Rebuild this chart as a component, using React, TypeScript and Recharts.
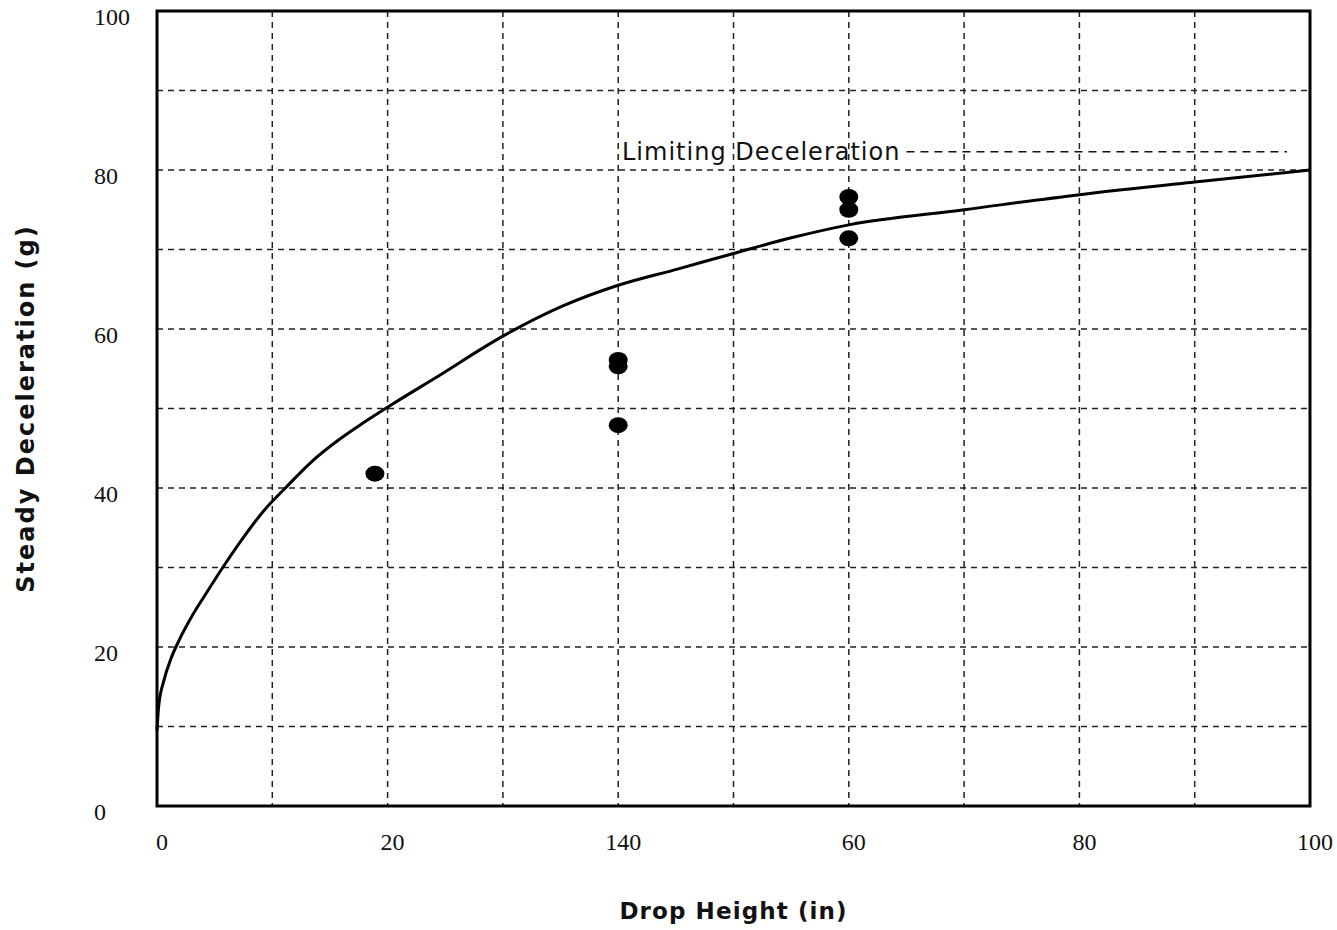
import {
  ComposedChart,
  Line,
  Scatter,
  XAxis,
  YAxis,
  CartesianGrid,
  ReferenceArea,
  ReferenceLine,
} from 'recharts';

// fitted curve
const curveX = [0, 0.15, 0.6, 1.2, 1.9, 3.0, 4.2, 5.7, 7.5, 9.3, 11.2, 13.4, 15.8, 17.9, 20.7, 24.2, 30, 35.2, 40, 45.3, 50, 55.1, 60, 70, 80, 90, 100];
const curveY = [9.5, 12.6, 15.8, 18.5, 20.8, 23.8, 26.6, 30.0, 33.8, 37.2, 40.1, 43.3, 46.1, 48.2, 50.8, 53.9, 59.1, 62.9, 65.5, 67.6, 69.5, 71.5, 73.1, 75, 76.9, 78.5, 80];

// measured drops
const dropX = [18.9, 40, 40, 40, 60, 60, 60];
const decelY = [41.8, 56.1, 55.3, 47.9, 76.6, 75.0, 71.4];

// axis ticks (the original prints "140" under 40)
const xTicks = [0, 10, 20, 30, 40, 50, 60, 70, 80, 90, 100];
const xTickLabels: Record<number, string> = { 0: '0', 20: '20', 40: '140', 60: '60', 80: '80', 100: '100' };
const yTicks = [0, 10, 20, 30, 40, 50, 60, 70, 80, 90, 100];
const yTickLabels: Record<number, string> = { 0: '0', 20: '20', 40: '40', 60: '60', 80: '80', 100: '100' };

// limiting deceleration marker
const limitLevel = 82.3;
const limitFrom = 65;
const limitTo = 98;

const curveData = curveX.map((x, i) => ({ x, y: curveY[i] }));
const pointData = dropX.map((x, i) => ({ x, y: decelY[i] }));

const serif = '"Liberation Serif", "Times New Roman", serif';
const sans = '"DejaVu Sans", sans-serif';

function XTick({ x, y, payload }: any) {
  const label = xTickLabels[payload.value];
  if (!label) return null;
  return (
    <text x={x + 5} y={y} dy={36} textAnchor="middle" fontFamily={serif} fontSize={24} fill="#111">
      {label}
    </text>
  );
}

function YTick({ x, y, payload }: any) {
  const label = yTickLabels[payload.value];
  if (!label) return null;
  return (
    <text x={x - 55} y={y} dy={14} textAnchor="start" fontFamily={serif} fontSize={24} fill="#111">
      {label}
    </text>
  );
}

function Dot({ cx, cy }: any) {
  return <ellipse cx={cx} cy={cy} rx={9.5} ry={8} fill="#000" />;
}

export default function App() {
  return (
    <div style={{ position: 'absolute', left: 0, top: 0, background: '#fff' }}>
      <ComposedChart width={1337} height={930} margin={{ top: 11, right: 27, bottom: 0, left: 77 }}>
        <CartesianGrid stroke="#222" strokeWidth={1.5} strokeDasharray="6 5" />
        <XAxis
          type="number"
          dataKey="x"
          domain={[0, 100]}
          ticks={xTicks}
          interval={0}
          height={124}
          axisLine={false}
          tickLine={false}
          tick={<XTick />}
          label={{
            value: 'Drop Height (in)',
            position: 'insideBottom',
            offset: 11,
            style: { fontFamily: sans, fontSize: 23, fontWeight: 'bold', fill: '#111', letterSpacing: 1.1 },
          }}
        />
        <YAxis
          type="number"
          dataKey="y"
          domain={[0, 100]}
          ticks={yTicks}
          interval={0}
          width={80}
          axisLine={false}
          tickLine={false}
          tick={<YTick />}
          label={{
            value: 'Steady Deceleration (g)',
            angle: -90,
            position: 'insideLeft',
            offset: -52,
            style: { fontFamily: sans, fontSize: 24, fontWeight: 'bold', fill: '#111', textAnchor: 'middle', letterSpacing: 2 },
          }}
        />
        <ReferenceArea x1={0} x2={100} y1={0} y2={100} fill="none" stroke="#000" strokeWidth={3} />
        <ReferenceLine
          segment={[
            { x: limitFrom, y: limitLevel },
            { x: limitTo, y: limitLevel },
          ]}
          stroke="#111"
          strokeWidth={1.5}
          strokeDasharray="8 6"
          label={{
            value: 'Limiting Deceleration',
            position: 'left',
            offset: 6,
            style: { fontFamily: sans, fontSize: 24, fill: '#111', letterSpacing: 1 },
          }}
        />
        <Line
          data={curveData}
          dataKey="y"
          type="monotone"
          stroke="#000"
          strokeWidth={3}
          dot={false}
          activeDot={false}
          isAnimationActive={false}
        />
        <Scatter data={pointData} dataKey="y" shape={<Dot />} isAnimationActive={false} />
      </ComposedChart>
    </div>
  );
}
